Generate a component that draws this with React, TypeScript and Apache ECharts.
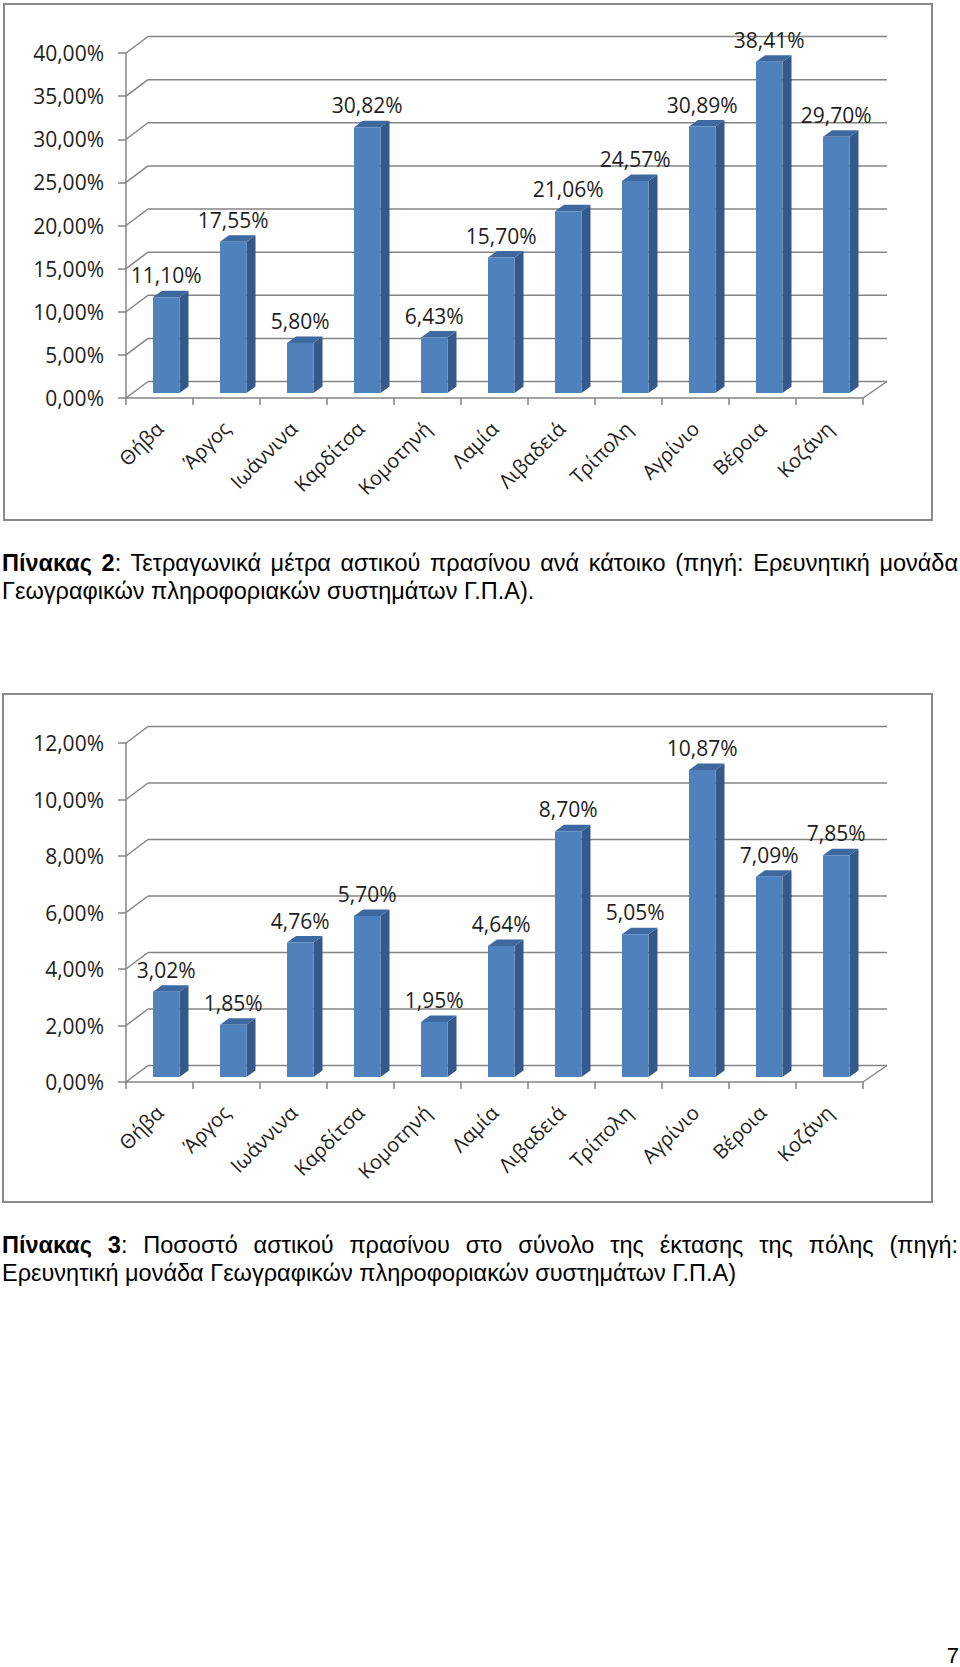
import React, { useEffect, useRef } from "react";
import * as echarts from "echarts";

const cities = ["Θήβα", "Άργος", "Ιωάννινα", "Καρδίτσα", "Κομοτηνή", "Λαμία", "Λιβαδειά", "Τρίπολη", "Αγρίνιο", "Βέροια", "Κοζάνη"];
const greenPerCapita = [11.10, 17.55, 5.80, 30.82, 6.43, 15.70, 21.06, 24.57, 30.89, 38.41, 29.70];
const greenShare = [3.02, 1.85, 4.76, 5.70, 1.95, 4.64, 8.70, 5.05, 10.87, 7.09, 7.85];
const ticks1 = [0, 5, 10, 15, 20, 25, 30, 35, 40];
const ticks2 = [0, 2, 4, 6, 8, 10, 12];

const caption1Line1Bold = "Πίνακας 2";
const caption1Line1 = ": Τετραγωνικά μέτρα αστικού πρασίνου ανά κάτοικο (πηγή: Ερευνητική μονάδα";
const caption1Line2 = "Γεωγραφικών πληροφοριακών συστημάτων Γ.Π.Α).";
const caption2Line1Bold = "Πίνακας 3";
const caption2Line1 = ": Ποσοστό αστικού πρασίνου στο σύνολο της έκτασης της πόλης (πηγή:";
const caption2Line2 = "Ερευνητική μονάδα Γεωγραφικών πληροφοριακών συστημάτων Γ.Π.Α)";
const pageNumber = "7";

const GRID_COLOR = "#848484";
const FONT = "'Open Sans', sans-serif";
const DEPTH_DX = 22;
const DEPTH_DY = -16.5;

const fmt = (v: number) => v.toFixed(2).replace(".", ",") + "%";

function gridRender(params: any, api: any) {
  const cs = params.coordSys;
  const v = api.value(1);
  const y = api.coord([0, v])[1];
  const x0 = cs.x;
  const x1 = cs.x + cs.width;
  const style = { stroke: GRID_COLOR, lineWidth: 1.5, fill: null };
  const children: any[] = [
    { type: "line", shape: { x1: x0, y1: y, x2: x0 + DEPTH_DX, y2: y + DEPTH_DY }, style },
    { type: "line", shape: { x1: x0 + DEPTH_DX, y1: y + DEPTH_DY, x2: x1 + DEPTH_DX + 2, y2: y + DEPTH_DY }, style },
  ];
  if (v === 0) {
    children.push({ type: "line", shape: { x1: x1, y1: y, x2: x1 + DEPTH_DX + 2, y2: y + DEPTH_DY }, style });
  }
  return { type: "group", children };
}

function barRender(params: any, api: any) {
  const idx = api.value(0);
  const v = api.value(1);
  const top = api.coord([idx, v]);
  const base = api.coord([idx, 0]);
  const cx = top[0];
  const fl = cx - 6.5;
  const w = 26.5;
  const fr = fl + w;
  const yTop = top[1] - 5;
  const yBase = base[1] - 5;
  const dx = 9;
  const dy = -6.5;
  return {
    type: "group",
    children: [
      {
        type: "polygon",
        shape: { points: [[fr, yTop], [fr + dx, yTop + dy], [fr + dx, yBase + dy], [fr, yBase]] },
        style: { fill: "#34598a" },
      },
      {
        type: "polygon",
        shape: { points: [[fl, yTop], [fr, yTop], [fr + dx, yTop + dy], [fl + dx, yTop + dy]] },
        style: { fill: "#3d68a0" },
      },
      {
        type: "rect",
        shape: { x: fl, y: yTop, width: w, height: yBase - yTop },
        style: { fill: "#4f81bd" },
      },
      {
        type: "text",
        style: {
          text: fmt(v),
          x: fl + w / 2,
          y: yTop - 22,
          align: "center",
          verticalAlign: "middle",
          fontFamily: FONT,
          fontSize: 21,
          fill: "#1e1e1e",
        },
      },
    ],
  };
}

function axesFor(i: number, max: number, interval: number) {
  const lineStyle = { color: GRID_COLOR, width: 1.5 };
  return {
    x: {
      type: "category",
      gridIndex: i,
      data: cities,
      axisLine: { show: true, lineStyle },
      axisTick: { show: true, length: 7, lineStyle },
      axisLabel: { interval: 0, rotate: 45, margin: 27, fontFamily: FONT, fontSize: 20, color: "#1e1e1e" },
      splitLine: { show: false },
    },
    y: {
      type: "value",
      gridIndex: i,
      min: 0,
      max,
      interval,
      axisLine: { show: true, lineStyle },
      axisTick: { show: true, length: 8, lineStyle },
      axisLabel: { margin: 22, formatter: fmt, fontFamily: FONT, fontSize: 21, color: "#1e1e1e" },
      splitLine: { show: false },
    },
  };
}

function Charts() {
  const ref = useRef<HTMLDivElement>(null);
  useEffect(() => {
    if (!ref.current) return;
    const chart = echarts.init(ref.current, undefined, { renderer: "svg" });
    const a1 = axesFor(0, 40, 5);
    const a2 = axesFor(1, 12, 2);
    chart.setOption({
      animation: false,
      backgroundColor: "#ffffff",
      grid: [
        { left: 126, top: 53, width: 737, height: 345 },
        { left: 126, top: 743, width: 737, height: 339 },
      ],
      xAxis: [a1.x, a2.x],
      yAxis: [a1.y, a2.y],
      graphic: [
        { type: "rect", shape: { x: 4, y: 4, width: 928, height: 516 }, style: { fill: null, stroke: "#8a8a8a", lineWidth: 2 } },
        { type: "rect", shape: { x: 3, y: 694, width: 929, height: 508 }, style: { fill: null, stroke: "#8a8a8a", lineWidth: 2 } },
      ],
      series: [
        { type: "custom", xAxisIndex: 0, yAxisIndex: 0, silent: true, z: 1, data: ticks1.map((t) => [0, t]), renderItem: gridRender },
        { type: "custom", xAxisIndex: 0, yAxisIndex: 0, silent: true, z: 3, data: greenPerCapita.map((v, k) => [k, v]), renderItem: barRender },
        { type: "custom", xAxisIndex: 1, yAxisIndex: 1, silent: true, z: 1, data: ticks2.map((t) => [0, t]), renderItem: gridRender },
        { type: "custom", xAxisIndex: 1, yAxisIndex: 1, silent: true, z: 3, data: greenShare.map((v, k) => [k, v]), renderItem: barRender },
      ],
    });
    return () => chart.dispose();
  }, []);
  return <div ref={ref} style={{ position: "absolute", left: 0, top: 0, width: 960, height: 1210 }} />;
}

const capFont: React.CSSProperties = {
  fontFamily: "'Liberation Sans', Arial, sans-serif",
  fontSize: 23.5,
  lineHeight: "27.6px",
  color: "#000",
  position: "absolute",
  left: 2,
  width: 956,
  margin: 0,
};

export default function App() {
  return (
    <div style={{ position: "absolute", left: 0, top: 0, width: 960, height: 1667, background: "#fff", overflow: "hidden" }}>
      <Charts />
      <div style={{ ...capFont, top: 550 }}>
        <div style={{ textAlign: "justify", textAlignLast: "justify", whiteSpace: "normal" }}>
          <b>{caption1Line1Bold}</b>{caption1Line1}
        </div>
        <div>{caption1Line2}</div>
      </div>
      <div style={{ ...capFont, top: 1232 }}>
        <div style={{ textAlign: "justify", textAlignLast: "justify" }}>
          <b>{caption2Line1Bold}</b>{caption2Line1}
        </div>
        <div>{caption2Line2}</div>
      </div>
      <div style={{ ...capFont, fontSize: 22, lineHeight: "19px", left: 900, width: 59, top: 1646, textAlign: "right" }}>{pageNumber}</div>
    </div>
  );
}
